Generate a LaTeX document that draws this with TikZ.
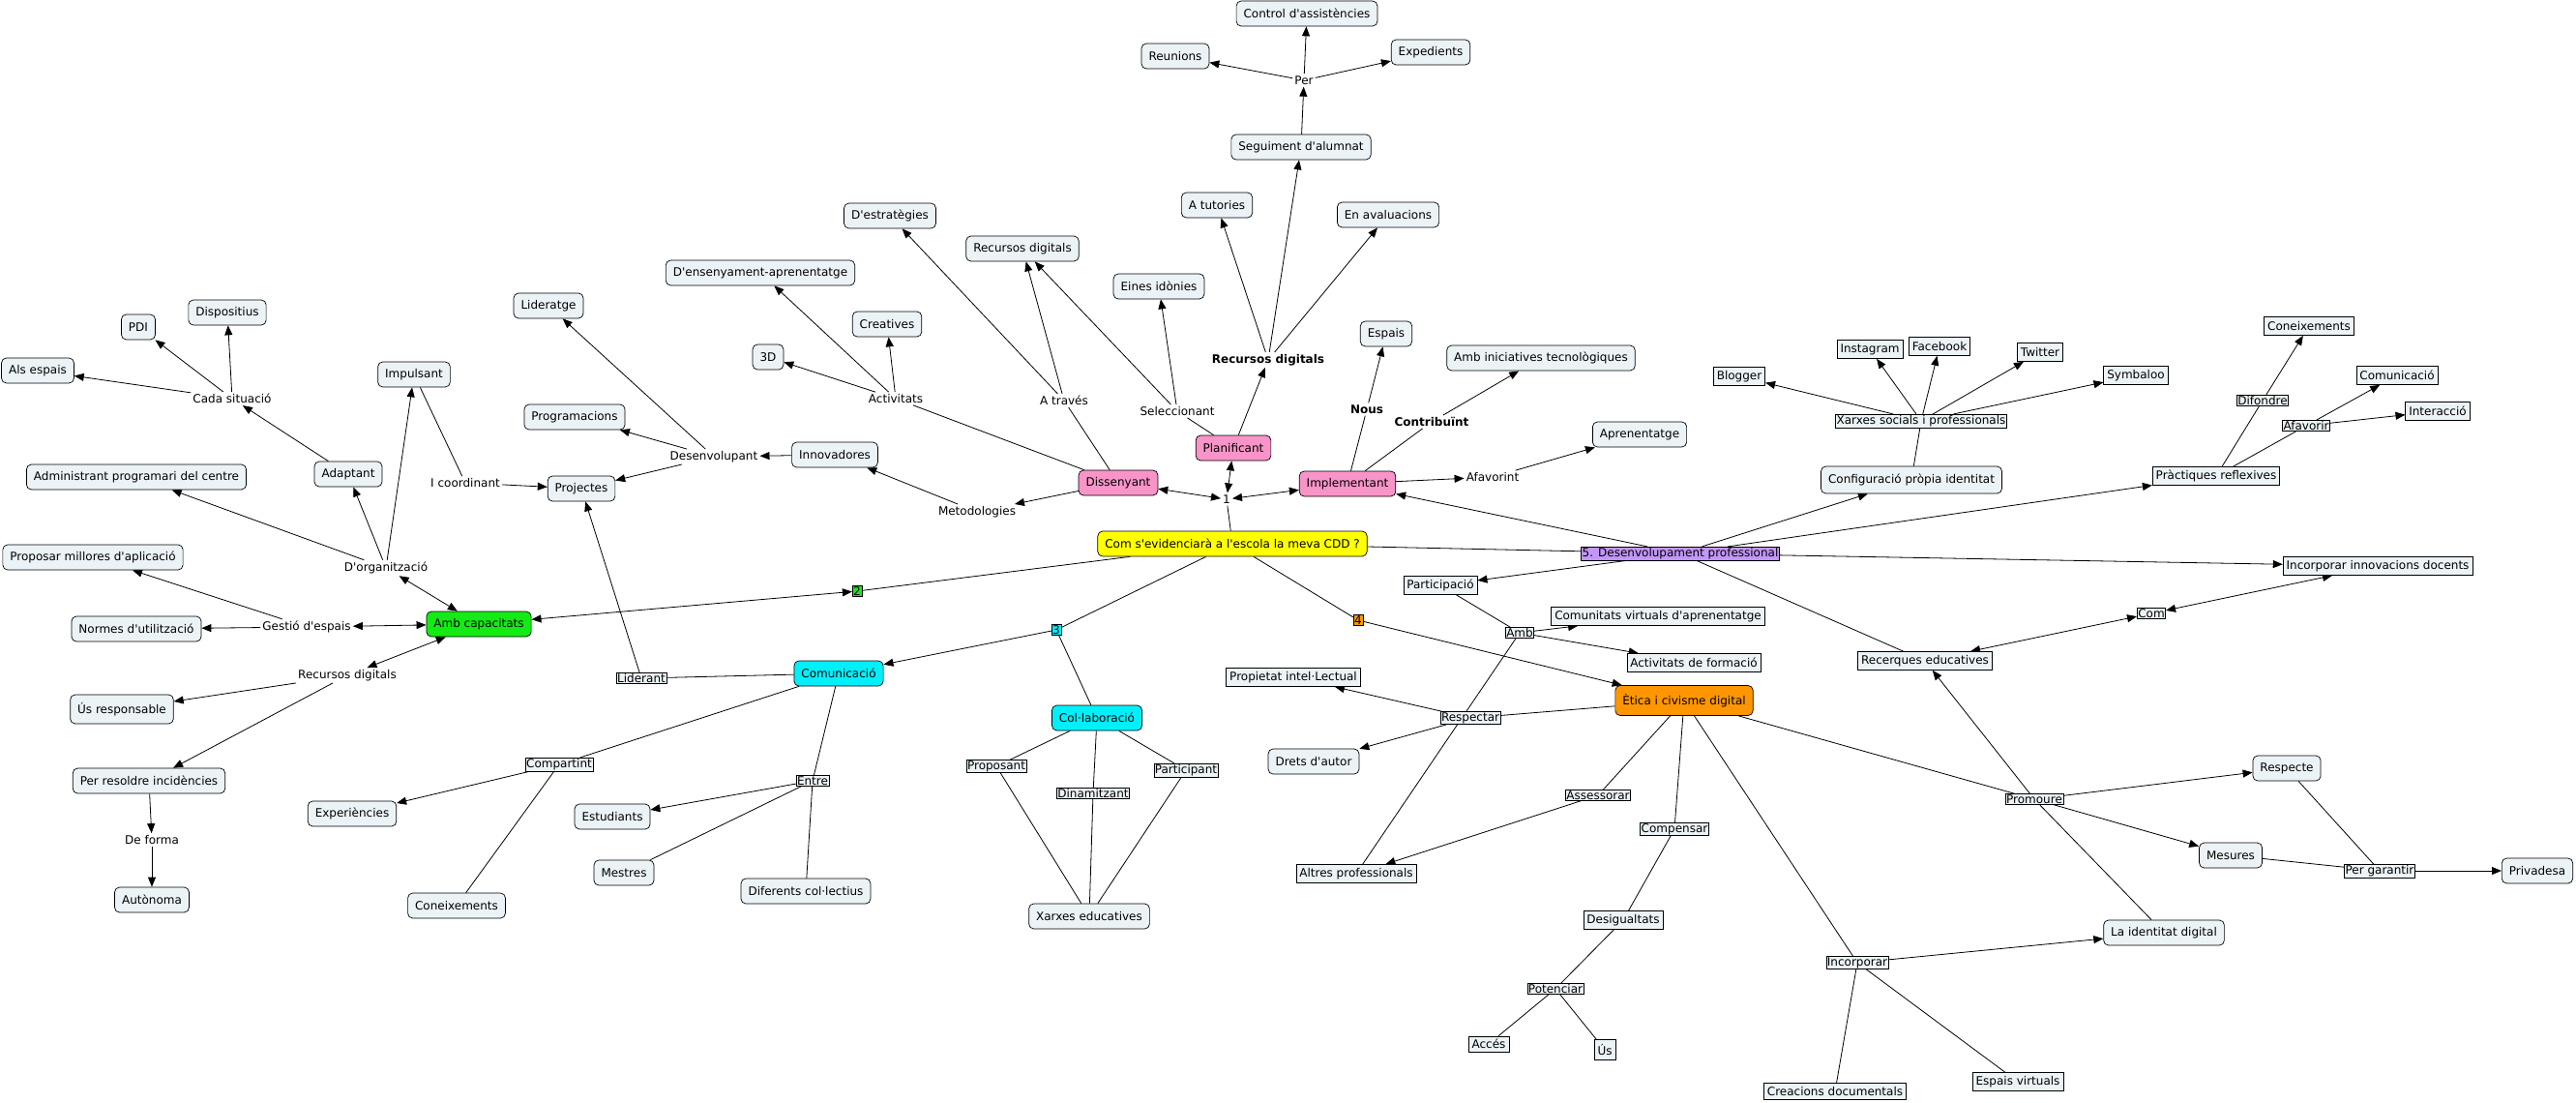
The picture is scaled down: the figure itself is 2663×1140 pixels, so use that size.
\documentclass[tikz,border=0pt]{standalone}
\usepackage{fontspec}
\newfontfamily\dvs{DejaVu Sans}
\usetikzlibrary{arrows.meta}
\pgfdeclarelayer{bg}
\pgfsetlayers{bg,main}
\definecolor{cfill}{RGB}{236,243,246}
\definecolor{cpink}{RGB}{248,148,200}
\definecolor{cgreen}{RGB}{20,235,20}
\definecolor{ccyan}{RGB}{0,240,250}
\definecolor{cyell}{RGB}{255,255,0}
\definecolor{corange}{RGB}{255,150,0}
\definecolor{cpurple}{RGB}{195,150,250}
\begin{document}
\begin{tikzpicture}[x=1pt,y=-1pt,
  font=\dvs\fontsize{12}{14}\selectfont,
  cpt/.style={draw,line width=0.7pt,rounded corners=5pt,fill=cfill,inner xsep=7.5pt,inner ysep=2pt,minimum height=26pt},
  rcpt/.style={draw,line width=0.7pt,fill=cfill,inner xsep=3.5pt,inner ysep=1.5pt,minimum height=19pt},
  lbox/.style={draw,line width=0.6pt,fill=cfill,inner sep=1pt},
  lt/.style={inner sep=2pt},
  ltb/.style={inner sep=2pt,font=\dvs\bfseries\fontsize{12}{14}\selectfont},
  ln/.style={line width=0.8pt},
  arr/.style={line width=0.8pt,-{Triangle[length=10pt,width=8pt]}},
  darr/.style={line width=0.8pt,{Triangle[length=10pt,width=8pt]}-{Triangle[length=10pt,width=8pt]}}]
\begin{pgfonlayer}{bg}
\fill[white] (0,0) rectangle (2663,1140);
\end{pgfonlayer}
\useasboundingbox (0,0) rectangle (2663,1140);
% ---------- left cluster
\node[cpt] (alsesp) at (39,383) {Als espais};
\node[cpt] (pdi) at (143,338) {PDI};
\node[cpt] (dispo) at (235,323) {Dispositius};
\node[lt] (cada) at (240,412) {Cada situació};
\node[cpt] (impuls) at (428,387) {Impulsant};
\node[cpt] (adapt) at (360,490) {Adaptant};
\node[cpt] (admin) at (141,493) {Administrant programari del centre};
\node[lt] (icoord) at (481,499) {I coordinant};
\node[cpt] (projec) at (601,505) {Projectes};
\node[cpt] (lider) at (567,316) {Lideratge};
\node[cpt] (progr) at (594,431) {Programacions};
\node[lt] (desenv) at (738,472) {Desenvolupant};
\node[cpt] (innov) at (863,470) {Innovadores};
\node[cpt] (propos) at (96,576) {Proposar millores d'aplicació};
\node[lt] (dorg) at (399,587) {D'organització};
\node[cpt,fill=cgreen] (ambcap) at (495,645) {Amb capacitats};
\node[lt] (gestio) at (317,648) {Gestió d'espais};
\node[cpt] (normes) at (141,650) {Normes d'utilització};
\node[lbox,fill=cgreen] (two) at (886,611) {2};
\node[lt] (recdigL) at (359,698) {Recursos digitals};
\node[cpt,minimum height=30pt] (usresp) at (126,733) {Ús responsable};
\node[cpt] (perres) at (154,807) {Per resoldre incidències};
\node[lt] (deforma) at (157,868) {De forma};
\node[cpt] (autonoma) at (157,930) {Autònoma};
\node[lbox] (liderant) at (663,701) {Liderant};
\node[cpt,fill=ccyan] (comunic) at (867,696) {Comunicació};
\node[lbox] (compart) at (578,790) {Compartint};
\node[cpt] (experi) at (364,841) {Experiències};
\node[lbox] (entre) at (840,807) {Entre};
\node[cpt] (estud) at (633,844) {Estudiants};
\node[cpt] (mestres) at (645,902) {Mestres};
\node[cpt] (coneixL) at (472,936) {Coneixements};
\node[cpt] (diferents) at (833,921) {Diferents col·lectius};
% ---------- middle top
\node[cpt] (destrat) at (920,223) {D'estratègies};
\node[cpt] (recdigB) at (1057,257) {Recursos digitals};
\node[cpt] (densen) at (786,282) {D'ensenyament-aprenentatge};
\node[cpt] (creat) at (917,335) {Creatives};
\node[cpt] (tresd) at (794,369) {3D};
\node[lt] (activ) at (926,412) {Activitats};
\node[lt] (atraves) at (1100,414) {A través};
\node[cpt] (eines) at (1198,296) {Eines idònies};
\node[lt] (selecc) at (1217,425) {Seleccionant};
\node[cpt] (atut) at (1258,212) {A tutories};
\node[cpt] (enaval) at (1435,222) {En avaluacions};
\node[ltb] (recdigC) at (1311,372) {Recursos digitals};
\node[cpt] (seguim) at (1345,152) {Seguiment d'alumnat};
\node[lt] (per) at (1348,83) {Per};
\node[cpt] (control) at (1351,14) {Control d'assistències};
\node[cpt] (reunions) at (1215,58) {Reunions};
\node[cpt] (exped) at (1479,54) {Expedients};
\node[cpt] (espais) at (1433,345) {Espais};
\node[cpt] (ambinic) at (1593,370) {Amb iniciatives tecnològiques};
\node[ltb] (nous) at (1413,423) {Nous};
\node[ltb] (contrib) at (1480,436) {Contribuïnt};
\node[cpt,fill=cpink] (planif) at (1275,463) {Planificant};
\node[cpt,fill=cpink] (dissen) at (1156,499) {Dissenyant};
\node[cpt,fill=cpink] (implem) at (1393,500) {Implementant};
\node[lt] (afavorint) at (1543,493) {Afavorint};
\node[cpt] (aprenent) at (1695,449) {Aprenentatge};
\node[lt] (one) at (1268,516) {1};
\node[lt] (metod) at (1010,529) {Metodologies};
\node[cpt,fill=cyell] (com) at (1274,562) {Com s'evidenciarà a l'escola la meva CDD ?};
% ---------- right
\node[rcpt] (blogger) at (1798,389) {Blogger};
\node[rcpt] (insta) at (1933,361) {Instagram};
\node[rcpt] (facebook) at (2005,358) {Facebook};
\node[rcpt] (twitter) at (2109,364) {Twitter};
\node[rcpt] (symbaloo) at (2208,388) {Symbaloo};
\node[lbox] (xarxes) at (1986,435) {Xarxes socials i professionals};
\node[cpt,minimum height=28pt] (config) at (1976,496) {Configuració pròpia identitat};
\node[rcpt] (coneixR) at (2387,337) {Coneixements};
\node[rcpt] (comunR) at (2478,388) {Comunicació};
\node[rcpt] (interac) at (2520,425) {Interacció};
\node[lbox] (difondre) at (2339,414) {Difondre};
\node[lbox] (afavorir) at (2384,440) {Afavorir};
\node[rcpt] (practiq) at (2291,492) {Pràctiques reflexives};
\node[lbox,fill=cpurple] (desprof) at (1737,572) {5. Desenvolupament professional};
\node[rcpt] (incinnov) at (2458,585) {Incorporar innovacions docents};
\node[rcpt] (partic) at (1489,605) {Participació};
\node[rcpt] (comvirt) at (1714,637) {Comunitats virtuals d'aprenentatge};
\node[lbox] (amb) at (1571,654) {Amb};
\node[rcpt] (actform) at (1751,685) {Activitats de formació};
\node[lbox,fill=corange] (four) at (1404,641) {4};
\node[rcpt] (recerq) at (1990,683) {Recerques educatives};
\node[lbox] (comR) at (2224,634) {Com};
\node[cpt,fill=corange,minimum height=31pt] (etica) at (1741,724) {Ètica i civisme digital};
\node[lbox,fill=ccyan] (three) at (1092,651) {3};
\node[cpt,fill=ccyan] (collab) at (1134,742) {Col·laboració};
\node[lbox] (proposant) at (1030,792) {Proposant};
\node[lbox] (dinam) at (1130,820) {Dinamitzant};
\node[lbox] (particip) at (1226,796) {Participant};
\node[cpt] (xarxesed) at (1126,947) {Xarxes educatives};
\node[rcpt] (propint) at (1337,700) {Propietat intel·Lectual};
\node[cpt] (drets) at (1358,787) {Drets d'autor};
\node[lbox] (respectar) at (1520,742) {Respectar};
\node[rcpt] (altres) at (1402,903) {Altres professionals};
\node[lbox] (assess) at (1652,822) {Assessorar};
\node[lbox] (compens) at (1731,857) {Compensar};
\node[rcpt] (desig) at (1678,951) {Desigualtats};
\node[cpt] (respecte) at (2364,794) {Respecte};
\node[lbox] (promoure) at (2103,826) {Promoure};
\node[cpt] (mesures) at (2306,884) {Mesures};
\node[lbox] (pergar) at (2460,900) {Per garantir};
\node[cpt] (privad) at (2623,900) {Privadesa};
\node[cpt] (identitat) at (2237,964) {La identitat digital};
\node[lbox] (incorporar) at (1920,995) {Incorporar};
\node[lbox] (potenciar) at (1608,1022) {Potenciar};
\node[rcpt,minimum height=16pt] (acces) at (1539,1079) {Accés};
\node[rcpt,minimum height=21pt] (us) at (1659,1085) {Ús};
\node[rcpt,minimum height=17pt] (creac) at (1897,1128) {Creacions documentals};
\node[rcpt] (espvirt) at (2086,1118) {Espais virtuals};
% ---------- connectors
\begin{pgfonlayer}{bg}
\draw[arr] (cada) -- (alsesp);
\draw[arr] (cada) -- (pdi);
\draw[arr] (cada) -- (dispo);
\draw[arr] (adapt) -- (cada);
\draw[arr] (dorg) -- (admin);
\draw[arr] (dorg) -- (adapt);
\draw[arr] (dorg) -- (impuls);
\draw[ln] (impuls) -- (icoord);
\draw[arr] (icoord) -- (projec);
\draw[arr] (desenv) -- (lider);
\draw[arr] (desenv) -- (progr);
\draw[arr] (desenv) -- (projec);
\draw[arr] (innov) -- (desenv);
\draw[arr] (metod) -- (innov);
\draw[arr] (dissen) -- (metod);
\draw[ln] (dissen) -- (activ);
\draw[arr] (activ) -- (tresd);
\draw[arr] (activ) -- (creat);
\draw[arr] (activ) -- (densen);
\draw[ln] (dissen) -- (atraves);
\draw[arr] (atraves) -- (destrat);
\draw[arr] (atraves) -- (recdigB);
\draw[ln] (planif) -- (selecc);
\draw[arr] (selecc) -- (recdigB);
\draw[arr] (selecc) -- (eines);
\draw[arr] (planif) -- (recdigC);
\draw[arr] (recdigC) -- (atut);
\draw[arr] (recdigC) -- (seguim);
\draw[arr] (recdigC) -- (enaval);
\draw[arr] (seguim) -- (per);
\draw[arr] (per) -- (control);
\draw[arr] (per) -- (reunions);
\draw[arr] (per) -- (exped);
\draw[ln] (implem) -- (nous);
\draw[arr] (nous) -- (espais);
\draw[ln] (implem) -- (contrib);
\draw[arr] (contrib) -- (ambinic);
\draw[arr] (implem) -- (afavorint);
\draw[arr] (afavorint) -- (aprenent);
\draw[darr] (one) -- (dissen);
\draw[darr] (one) -- (planif);
\draw[darr] (one) -- (implem);
\draw[ln] (com) -- (one);
\draw[darr] (ambcap) -- (dorg);
\draw[darr] (ambcap) -- (gestio);
\draw[darr] (ambcap) -- (recdigL);
\draw[arr] (gestio) -- (normes);
\draw[arr] (gestio) -- (propos);
\draw[arr] (recdigL) -- (usresp);
\draw[arr] (recdigL) -- (perres);
\draw[arr] (perres) -- (deforma);
\draw[arr] (deforma) -- (autonoma);
\draw[ln] (com) -- (two);
\draw[darr] (two) -- (ambcap);
\draw[ln] (com) -- (three);
\draw[arr] (three) -- (comunic);
\draw[ln] (three) -- (collab);
\draw[ln] (comunic) -- (liderant);
\draw[arr] (liderant) -- (projec);
\draw[ln] (comunic) -- (compart);
\draw[arr] (compart) -- (experi);
\draw[ln] (compart) -- (coneixL);
\draw[ln] (comunic) -- (entre);
\draw[arr] (entre) -- (estud);
\draw[ln] (entre) -- (mestres);
\draw[ln] (entre) -- (diferents);
\draw[ln] (collab) -- (proposant);
\draw[ln] (collab) -- (dinam);
\draw[ln] (collab) -- (particip);
\draw[ln] (proposant) -- (xarxesed);
\draw[ln] (dinam) -- (xarxesed);
\draw[ln] (particip) -- (xarxesed);
\draw[ln] (com) -- (four);
\draw[arr] (four) -- (etica);
\draw[ln] (com) -- (desprof);
\draw[arr] (desprof) -- (implem);
\draw[arr] (desprof) -- (config);
\draw[arr] (desprof) -- (practiq);
\draw[arr] (desprof) -- (incinnov);
\draw[arr] (desprof) -- (partic);
\draw[ln] (desprof) -- (recerq);
\draw[ln] (config) -- (xarxes);
\draw[arr] (xarxes) -- (blogger);
\draw[arr] (xarxes) -- (insta);
\draw[arr] (xarxes) -- (facebook);
\draw[arr] (xarxes) -- (twitter);
\draw[arr] (xarxes) -- (symbaloo);
\draw[ln] (practiq) -- (difondre);
\draw[arr] (difondre) -- (coneixR);
\draw[ln] (practiq) -- (afavorir);
\draw[arr] (afavorir) -- (comunR);
\draw[arr] (afavorir) -- (interac);
\draw[darr] (incinnov) -- (comR);
\draw[darr] (comR) -- (recerq);
\draw[ln] (partic) -- (amb);
\draw[arr] (amb) -- (comvirt);
\draw[arr] (amb) -- (actform);
\draw[ln] (amb) -- (altres);
\draw[ln] (etica) -- (respectar);
\draw[arr] (respectar) -- (propint);
\draw[arr] (respectar) -- (drets);
\draw[ln] (etica) -- (assess);
\draw[arr] (assess) -- (altres);
\draw[ln] (etica) -- (compens);
\draw[ln] (compens) -- (desig);
\draw[ln] (desig) -- (potenciar);
\draw[ln] (potenciar) -- (acces);
\draw[ln] (potenciar) -- (us);
\draw[ln] (etica) -- (incorporar);
\draw[arr] (incorporar) -- (identitat);
\draw[ln] (incorporar) -- (creac);
\draw[ln] (incorporar) -- (espvirt);
\draw[ln] (etica) -- (promoure);
\draw[arr] (promoure) -- (respecte);
\draw[arr] (promoure) -- (mesures);
\draw[arr] (promoure) -- (recerq);
\draw[ln] (identitat) -- (promoure);
\draw[ln] (mesures) -- (pergar);
\draw[ln] (respecte) -- (pergar);
\draw[arr] (pergar) -- (privad);
\end{pgfonlayer}
\end{tikzpicture}
\end{document}
